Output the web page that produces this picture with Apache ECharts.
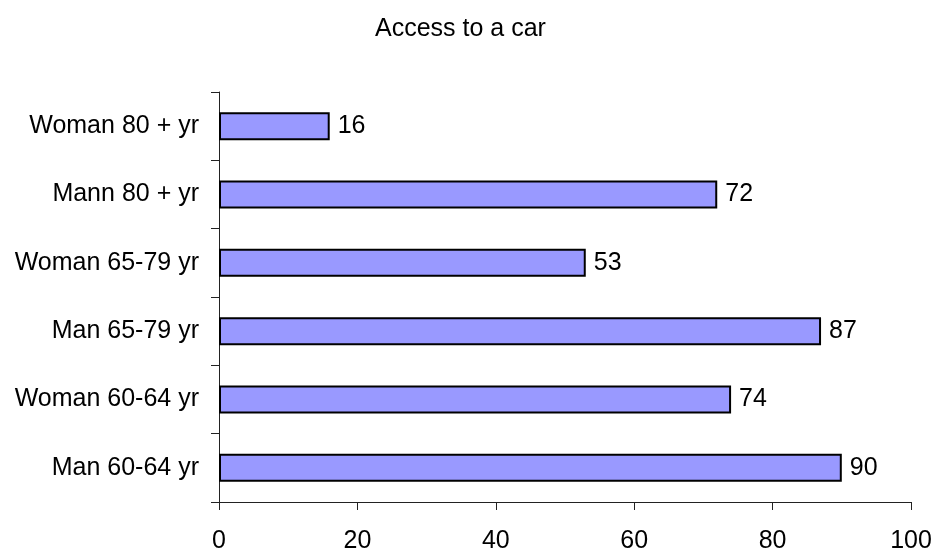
<!DOCTYPE html>
<html>
<head>
<meta charset="utf-8">
<script src="https://cdn.jsdelivr.net/npm/echarts@6/dist/echarts.min.js"></script>
<style>
  html, body { margin: 0; padding: 0; background: #fff; }
  #chart { width: 933px; height: 549px; }
</style>
</head>
<body>
<div id="chart"></div>
<script>
// -- Data, bottom to top as drawn --
const categories = ['Man 60-64 yr', 'Woman 60-64 yr', 'Man 65-79 yr', 'Woman 65-79 yr', 'Mann 80 + yr', 'Woman 80 + yr'];
const values = [90, 74, 87, 53, 72, 16];
const xTicks = [0, 20, 40, 60, 80, 100];

const FONT = 'Liberation Sans, Arial, sans-serif';

const chart = echarts.init(document.getElementById('chart'), null, { renderer: 'canvas' });
chart.setOption({
  animation: false,
  title: {
    text: 'Access to a car',
    left: 370,
    top: 12,
    textStyle: { fontFamily: FONT, fontSize: 25, fontWeight: 'normal', color: '#000' }
  },
  grid: { left: 219, right: 22, top: 92, bottom: 47, containLabel: false, outerBoundsMode: 'none' },
  xAxis: {
    type: 'value',
    min: xTicks[0],
    max: xTicks[xTicks.length - 1],
    interval: 20,
    axisLine: { show: true, lineStyle: { color: '#222', width: 1 } },
    axisTick: { show: true, length: 8, lineStyle: { color: '#222' } },
    axisLabel: { fontFamily: FONT, fontSize: 25, color: '#000', margin: 27 },
    splitLine: { show: false }
  },
  yAxis: {
    type: 'category',
    data: categories,
    axisLine: { show: true, lineStyle: { color: '#222', width: 1 } },
    axisTick: { show: true, length: 8, lineStyle: { color: '#222' } },
    axisLabel: { fontFamily: FONT, fontSize: 25, color: '#000', margin: 20 }
  },
  series: [{
    type: 'bar',
    data: values,
    barWidth: 28,
    itemStyle: { color: '#9999ff', borderColor: '#000', borderWidth: 2 },
    label: {
      show: true,
      position: 'right',
      distance: 8,
      fontFamily: FONT,
      fontSize: 25,
      color: '#000'
    }
  }]
});
</script>
</body>
</html>
